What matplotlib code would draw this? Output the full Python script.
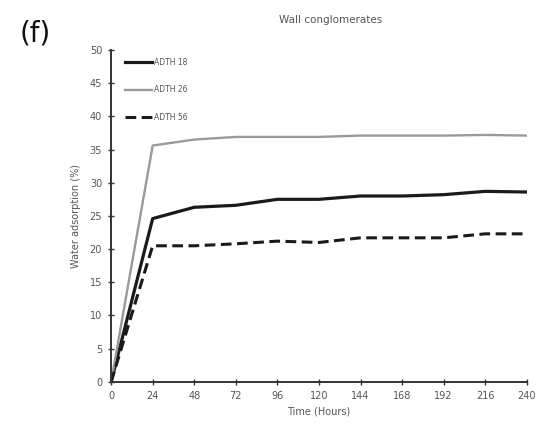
import matplotlib
matplotlib.use("Agg")
import matplotlib.pyplot as plt

hours = [0, 24, 48, 72, 96, 120, 144, 168, 192, 216, 240]
adth18 = [0, 24.6, 26.3, 26.6, 27.5, 27.5, 28.0, 28.0, 28.2, 28.7, 28.6]
adth26 = [0, 35.6, 36.5, 36.9, 36.9, 36.9, 37.1, 37.1, 37.1, 37.2, 37.1]
adth56 = [0, 20.5, 20.5, 20.8, 21.2, 21.0, 21.7, 21.7, 21.7, 22.3, 22.3]
labels = ["ADTH 18", "ADTH 26", "ADTH 56"]

fig = plt.figure(figsize=(5.42, 4.42), dpi=100)
ax = fig.add_axes([0.205, 0.136, 0.767, 0.751])

ax.plot(hours, adth18, color="#1a1a1a", lw=2.3, label=labels[0])
ax.plot(hours, adth26, color="#9a9a9a", lw=1.7, label=labels[1])
ax.plot(hours, adth56, color="#1a1a1a", lw=2.2, ls=(0, (3.5, 1.8)), label=labels[2])

ax.set_xlim(0, 240)
ax.set_ylim(0, 50)
ax.set_xticks(hours)
ax.set_yticks(range(0, 51, 5))
for s in ["top", "right"]:
    ax.spines[s].set_visible(False)
for s in ["left", "bottom"]:
    ax.spines[s].set_linewidth(1.4)
    ax.spines[s].set_color("#333333")
ax.tick_params(direction="inout", length=5, width=1, colors="#333333",
               labelsize=7, labelcolor="#555555", pad=4)
ax.set_xlabel("Time (Hours)", fontsize=7, color="#555555", labelpad=4)
ax.set_ylabel("Water adsorption (%)", fontsize=7, color="#555555", labelpad=6)

leg = ax.legend(loc="upper left", frameon=False, fontsize=5.5, handlelength=3.6,
                labelspacing=2.4, borderaxespad=0.0, bbox_to_anchor=(0.025, 0.985),
                handletextpad=0.3)
for t in leg.get_texts():
    t.set_color("#555555")

fig.text(0.61, 0.955, "Wall conglomerates", ha="center", va="center",
         fontsize=7.5, color="#555555")
fig.text(0.065, 0.925, "(f)", ha="center", va="center", fontsize=20, color="#111111")

fig.savefig("out.png", dpi=100)
